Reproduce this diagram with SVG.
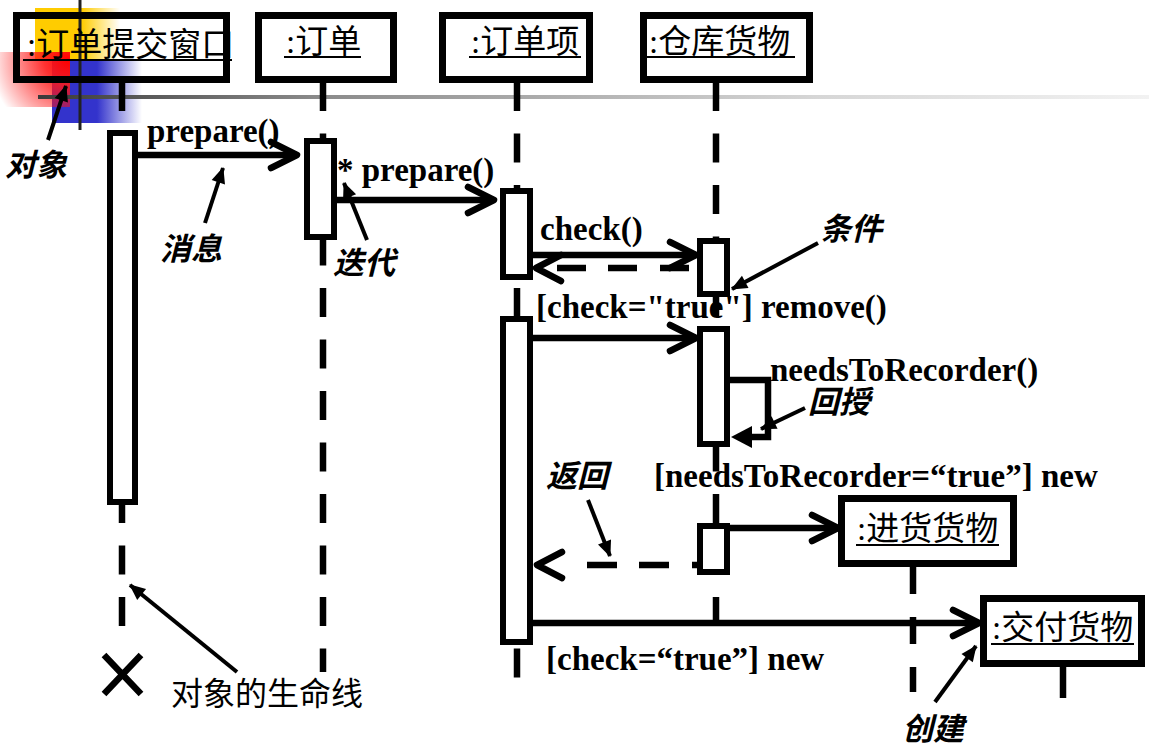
<svg xmlns="http://www.w3.org/2000/svg" width="1149" height="748" viewBox="0 0 1149 748">
<defs>
<style>
.box{fill:none;stroke:#000;stroke-width:7}
.act{fill:#fff;stroke:#000;stroke-width:6}
.life{stroke:#000;stroke-width:6.5;fill:none;stroke-dasharray:29 22.5}
.solid{stroke:#000;stroke-width:6.5;fill:none}
.ul{stroke:#000;stroke-width:2}
.msg{stroke:#000;stroke-width:6.5;fill:none;marker-end:url(#open)}
.dash{stroke:#000;stroke-width:6.5;fill:none}
.head{stroke:#000;stroke-width:6.5;fill:none;stroke-linecap:round;stroke-linejoin:round}
.ann{stroke:#000;stroke-width:4;fill:none;marker-end:url(#tri)}
.obj{font-family:"Liberation Serif","Noto Sans CJK SC",serif;font-size:33px;fill:#000}
.lbl{font-family:"Liberation Serif",serif;font-weight:bold;font-size:33px;fill:#000}
.note{font-family:"Noto Sans CJK SC",sans-serif;font-weight:700;font-style:italic;font-size:31px;fill:#000}
.plain{font-family:"Noto Sans CJK SC",sans-serif;font-size:32px;fill:#000}
</style>
<marker id="open" markerUnits="userSpaceOnUse" viewBox="-32 -18 36 36" refX="0" refY="0" markerWidth="36" markerHeight="36" orient="auto" overflow="visible">
<path d="M-26,-13 L0,0 L-26,13" fill="none" stroke="#000" stroke-width="6.5" stroke-linecap="round" stroke-linejoin="round"/>
</marker>
<marker id="tri" markerUnits="userSpaceOnUse" viewBox="-16 -8 18 16" refX="0" refY="0" markerWidth="18" markerHeight="16" orient="auto" overflow="visible">
<path d="M-15,-7 L1,0 L-15,7 z" fill="#000"/>
</marker>
<linearGradient id="gline" gradientUnits="userSpaceOnUse" x1="38" y1="0" x2="1149" y2="0">
<stop offset="0" stop-color="#3a3a3a"/>
<stop offset="0.25" stop-color="#8a8a8a"/>
<stop offset="0.7" stop-color="#d6d6d6"/>
<stop offset="1" stop-color="#f2f2f2"/>
</linearGradient>
<linearGradient id="gyel" x1="0" y1="0" x2="1" y2="0">
<stop offset="0" stop-color="#ffcc00"/>
<stop offset="0.55" stop-color="#ffcc00"/>
<stop offset="1" stop-color="#ffcc00" stop-opacity="0"/>
</linearGradient>
<linearGradient id="gblue" x1="0" y1="0" x2="1" y2="0">
<stop offset="0" stop-color="#3333cc"/>
<stop offset="0.5" stop-color="#3333cc"/>
<stop offset="1" stop-color="#3333cc" stop-opacity="0"/>
</linearGradient>
<radialGradient id="gred" gradientUnits="userSpaceOnUse" cx="68" cy="60" r="78">
<stop offset="0" stop-color="#ff0000"/>
<stop offset="0.3" stop-color="#ff1a1a" stop-opacity="0.9"/>
<stop offset="1" stop-color="#ff0000" stop-opacity="0"/>
</radialGradient>
</defs>
<rect width="1149" height="748" fill="#fff"/>

<g id="decoration">
<rect x="35" y="8" width="85" height="52" fill="url(#gyel)"/>
<rect x="52" y="60" width="90" height="63" fill="url(#gblue)"/>
<rect x="0" y="52" width="70" height="55" fill="url(#gred)"/>
<line x1="38" y1="97" x2="1149" y2="97" stroke="url(#gline)" stroke-width="4"/>
<line x1="80" y1="0" x2="80" y2="130" stroke="#222" stroke-width="3"/>
</g>

<g id="labels">
<text class="lbl" x="147" y="142">prepare()</text>
<text class="lbl" x="337" y="181">* prepare()</text>
<text class="lbl" x="540" y="240">check()</text>
<text class="lbl" x="536" y="318">[check="true"] remove()</text>
<text class="lbl" x="770" y="381">needsToRecorder()</text>
<text class="lbl" x="654" y="487">[needsToRecorder=“true”] new</text>
<text class="lbl" x="546" y="670">[check=“true”] new</text>
</g>

<g id="obj-window">
<rect class="box" x="16.5" y="15.5" width="210" height="64"/>
<text class="obj" x="27" y="56" font-size="32">:订单提交窗口</text>
<line class="ul" x1="23" y1="60" x2="232" y2="60"/>
<path class="life" d="M122,82 V626"/>
<rect class="act" x="110" y="133" width="25" height="369"/>
<path d="M104,655 L141,694 M141,655 L104,694" stroke="#000" stroke-width="6.5"/>
</g>

<g id="obj-order">
<rect class="box" x="258.5" y="15.5" width="135" height="64"/>
<text class="obj" x="286" y="53">:订单</text>
<line class="ul" x1="284" y1="57" x2="361" y2="57"/>
<path class="life" d="M323,82 V672"/>
<rect class="act" x="307" y="141" width="27" height="96"/>
</g>

<g id="obj-item">
<rect class="box" x="442.5" y="15.5" width="147" height="64"/>
<text class="obj" x="471" y="53">:订单项</text>
<line class="ul" x1="469" y1="57" x2="581" y2="57"/>
<path class="life" d="M517,82 V679"/>
<rect class="act" x="503" y="191" width="27" height="86"/>
<rect class="act" x="503" y="319" width="27" height="323"/>
</g>

<g id="obj-stock">
<rect class="box" x="643.5" y="15.5" width="166" height="64"/>
<text class="obj" x="649" y="53">:仓库货物</text>
<line class="ul" x1="647" y1="57" x2="795" y2="57"/>
<path class="life" d="M716,82 V626"/>
<rect class="act" x="700" y="241" width="27" height="53"/>
<rect class="act" x="700" y="329" width="27" height="115"/>
<rect class="act" x="700" y="526" width="27" height="46"/>
</g>

<g id="obj-restock">
<rect class="box" x="841.5" y="498.5" width="172" height="65"/>
<text class="obj" x="857" y="540">:进货货物</text>
<line class="ul" x1="856" y1="545" x2="999" y2="545"/>
<path class="life" style="stroke-dasharray:27 23" d="M913,567 V692"/>
</g>

<g id="obj-delivery">
<rect class="box" x="983.5" y="598.5" width="158" height="65"/>
<text class="obj" x="992" y="639">:交付货物</text>
<line class="ul" x1="991" y1="644" x2="1134" y2="644"/>
<path class="solid" d="M1063,667 V698"/>
</g>

<g id="connectors">
<path class="msg" d="M135,155 H297"/>
<path class="msg" d="M334,200 H494"/>
<path class="msg" d="M530,255 H696"/>
<path class="dash" d="M689,268 H660 M637,268 H608 M586,268 H557"/>
<path class="head" d="M561,255 L536,268 L561,281"/>
<path class="msg" d="M530,338 H696"/>
<path d="M727,380 H768 V437 H752" stroke="#000" stroke-width="6.5" fill="none" stroke-linejoin="miter"/>
<path d="M752,426 L731,437 L752,448 z" fill="#000"/>
<path class="msg" d="M727,528 H838"/>
<path class="dash" d="M700,565 H692 M669,565 H639 M617,565 H587"/>
<path class="head" d="M562,552 L537,565 L562,578"/>
<path class="msg" d="M530,623 H979"/>
</g>

<g id="annotations">
<path class="ann" d="M48,140 L66,86"/>
<text class="note" x="5" y="176">对象</text>
<path class="ann" d="M205,223 L223,168"/>
<text class="note" x="160" y="260">消息</text>
<path class="ann" d="M367,240 L344,183"/>
<text class="note" x="333" y="274">迭代</text>
<path class="ann" d="M818,243 L732,289"/>
<text class="note" x="820" y="240">条件</text>
<path class="ann" d="M805,408 L761,429"/>
<text class="note" x="808" y="413">回授</text>
<path class="ann" d="M588,500 L610,556"/>
<text class="note" x="546" y="487">返回</text>
<path class="ann" d="M935,702 L976,646"/>
<text class="note" x="902" y="740">创建</text>
<path class="ann" d="M237,672 L130,585"/>
<text class="plain" x="171" y="705">对象的生命线</text>
</g>
</svg>
